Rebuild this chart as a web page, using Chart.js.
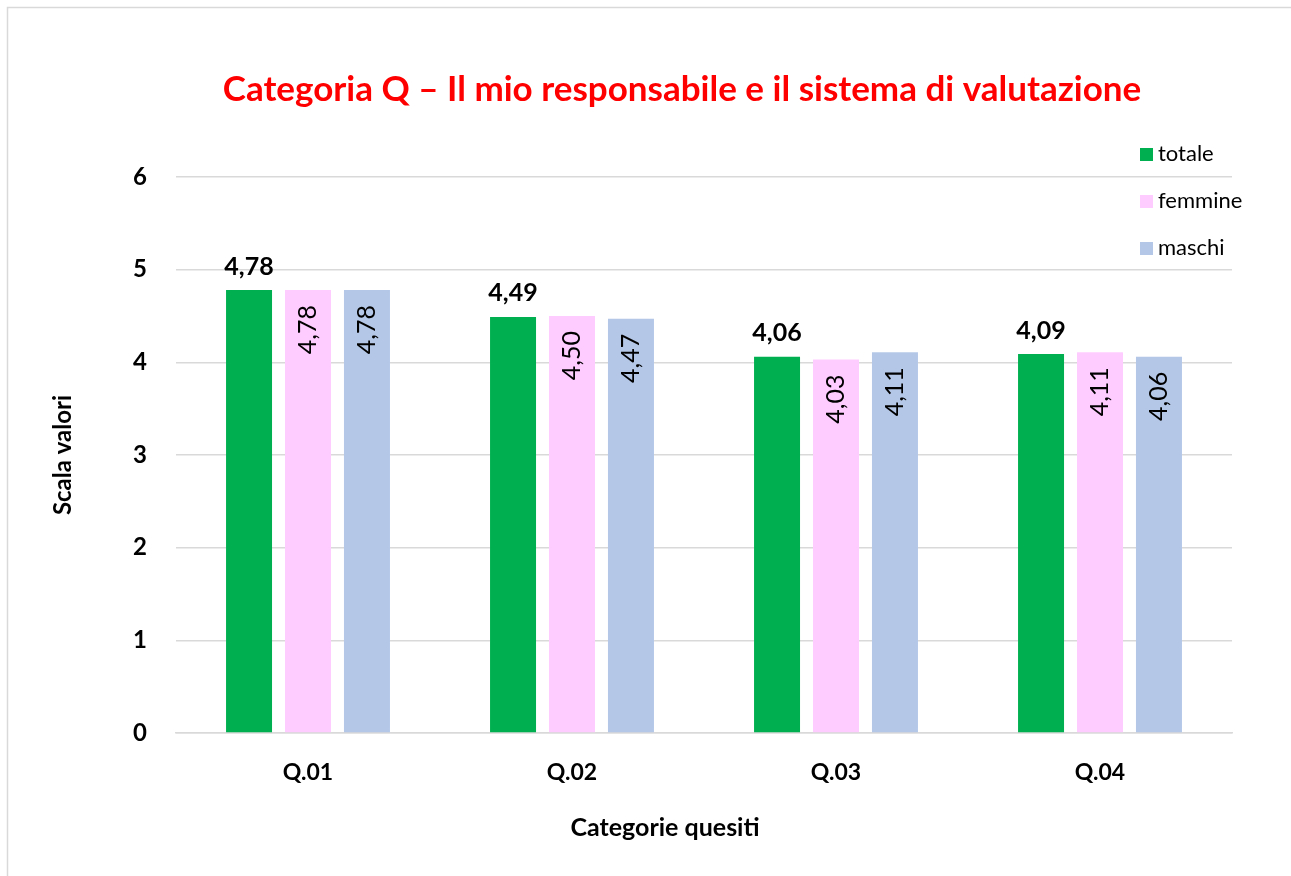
<!DOCTYPE html>
<html>
<head>
<meta charset="utf-8">
<script src="https://cdn.jsdelivr.net/npm/chart.js@4/dist/chart.umd.min.js"></script>
<style>
  html, body { margin: 0; padding: 0; background: #fff; }
  #wrap { width: 1291px; height: 876px; position: relative; }
</style>
</head>
<body>
<div id="wrap"><canvas id="chart" width="1291" height="876"></canvas></div>
<script>
// Chart data
const categories = ["Q.01", "Q.02", "Q.03", "Q.04"];
const totale = [4.78, 4.49, 4.06, 4.09];
const femmine = [4.78, 4.50, 4.03, 4.11];
const maschi = [4.78, 4.47, 4.11, 4.06];
const seriesNames = ["totale", "femmine", "maschi"];
const yTicks = [0, 1, 2, 3, 4, 5, 6];
const chartTitle = "Categoria Q – Il mio responsabile e il sistema di valutazione";
const xTitle = "Categorie quesiti";
const yTitle = "Scala valori";

const FONT = "Lato, 'Open Sans', sans-serif";
const fmt = v => v.toFixed(2).replace(".", ",");

// Frame, chart title and x axis title
const framePlugin = {
    id: "frame",
    beforeDraw(chart) {
        const ctx = chart.ctx;
        ctx.save();
        ctx.fillStyle = "#fff";
        ctx.fillRect(0, 0, chart.width, chart.height);
        ctx.strokeStyle = "#d9d9d9";
        ctx.lineWidth = 1.5;
        ctx.strokeRect(7.5, 7.5, chart.width + 20, chart.height + 20);
        ctx.restore();
    },
    afterDraw(chart) {
        const ctx = chart.ctx;
        ctx.save();
        ctx.textAlign = "center";
        ctx.textBaseline = "middle";
        ctx.fillStyle = "#FF0000";
        ctx.font = "bold 35px " + FONT;
        ctx.fillText(chartTitle, 682, 90);
        ctx.fillStyle = "#000";
        ctx.font = "bold 25px " + FONT;
        ctx.fillText(xTitle, 665, 828);
        ctx.restore();
    }
};

// Value labels: totale bold above bar, others rotated inside bar
const labelPlugin = {
    id: "valueLabels",
    afterDatasetsDraw(chart) {
        const ctx = chart.ctx;
        ctx.save();
        ctx.fillStyle = "#000";
        chart.data.datasets.forEach((ds, i) => {
            const meta = chart.getDatasetMeta(i);
            meta.data.forEach((bar, j) => {
                const txt = fmt(ds.data[j]);
                if (i === 0) {
                    ctx.font = "bold 25px " + FONT;
                    ctx.textAlign = "center";
                    ctx.textBaseline = "bottom";
                    ctx.fillText(txt, bar.x, bar.y - 11);
                } else {
                    ctx.save();
                    ctx.translate(bar.x, bar.y + 15);
                    ctx.rotate(-Math.PI / 2);
                    ctx.font = "25px " + FONT;
                    ctx.textAlign = "right";
                    ctx.textBaseline = "middle";
                    ctx.fillText(txt, 0, 0);
                    ctx.restore();
                }
            });
        });
        ctx.restore();
    }
};

// Legend drawn over the top right of the plot
const legendPlugin = {
    id: "sideLegend",
    afterDraw(chart) {
        const ctx = chart.ctx;
        ctx.save();
        ctx.font = "22px " + FONT;
        ctx.textBaseline = "middle";
        ctx.textAlign = "left";
        chart.data.datasets.forEach((ds, i) => {
            const y = 154 + i * 47;
            ctx.fillStyle = ds.backgroundColor;
            ctx.fillRect(1140, y - 6, 13, 13);
            ctx.fillStyle = "#000";
            ctx.fillText(ds.label, 1158, y);
        });
        ctx.restore();
    }
};

new Chart(document.getElementById("chart"), {
    type: "bar",
    data: {
        labels: categories,
        datasets: [
            { label: seriesNames[0], data: totale, backgroundColor: "#00B050" },
            { label: seriesNames[1], data: femmine, backgroundColor: "#FFCCFF" },
            { label: seriesNames[2], data: maschi, backgroundColor: "#B4C7E7" }
        ]
    },
    options: {
        responsive: false,
        animation: false,
        events: [],
        layout: { padding: { left: 49, right: 59, top: 177, bottom: 36 } },
        datasets: {
            bar: { barPercentage: 0.78, categoryPercentage: 0.67 }
        },
        plugins: {
            legend: { display: false },
            tooltip: { enabled: false },
            title: { display: false }
        },
        scales: {
            x: {
                grid: { display: false, drawTicks: false },
                border: { display: true, color: "#d9d9d9", width: 1.5 },
                ticks: { color: "#000", padding: 26, font: { family: FONT, size: 23, weight: "bold" } },
                afterFit(scale) { scale.height = 107; }
            },
            y: {
                min: 0,
                max: 6,
                afterBuildTicks(scale) { scale.ticks = yTicks.map(v => ({ value: v })); },
                grid: { color: "#d9d9d9", lineWidth: 1.5, drawTicks: false },
                border: { display: false },
                ticks: { color: "#000", padding: 29, font: { family: FONT, size: 24, weight: "bold" } },
                title: {
                    display: true,
                    text: yTitle,
                    color: "#000",
                    padding: 0,
                    font: { family: FONT, size: 24, weight: "bold", lineHeight: 1.2 }
                },
                afterFit(scale) { scale.width = 127; }
            }
        }
    },
    plugins: [framePlugin, labelPlugin, legendPlugin]
});
</script>
</body>
</html>
